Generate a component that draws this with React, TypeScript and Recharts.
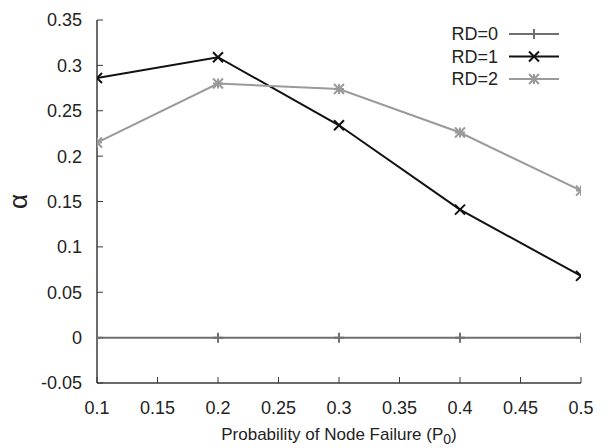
import React from "react"
import { LineChart, Line, XAxis, YAxis, Legend, Label } from "recharts"

const pFail = [0.1, 0.2, 0.3, 0.4, 0.5]
const rd0 = [0, 0, 0, 0, 0]
const rd1 = [0.286, 0.309, 0.234, 0.141, 0.068]
const rd2 = [0.215, 0.28, 0.274, 0.226, 0.162]
const seriesNames = ["RD=0", "RD=1", "RD=2"]

const xTicks = [0.1, 0.15, 0.2, 0.25, 0.3, 0.35, 0.4, 0.45, 0.5]
const yTicks = [-0.05, 0, 0.05, 0.1, 0.15, 0.2, 0.25, 0.3, 0.35]

const FONT = "'Liberation Sans', Arial, sans-serif"
const AXIS = "#3a3a3a"
const colors = ["#707070", "#111111", "#9a9a9a"]

const data = pFail.map((p, i) => ({ p, rd0: rd0[i], rd1: rd1[i], rd2: rd2[i] }))

const fmt = (v: number) => String(+v.toFixed(2))

type Mark = "plus" | "cross" | "star"
const marks: Mark[] = ["plus", "cross", "star"]

function markPath(kind: Mark, cx: number, cy: number, s = 5) {
  const plus = `M${cx - s},${cy}H${cx + s}M${cx},${cy - s}V${cy + s}`
  const cross = `M${cx - s},${cy - s}L${cx + s},${cy + s}M${cx - s},${cy + s}L${cx + s},${cy - s}`
  if (kind === "plus") return plus
  if (kind === "cross") return cross
  return plus + cross
}

function makeDot(kind: Mark, color: string) {
  return (props: any) => {
    const { cx, cy, index } = props
    if (cx == null || cy == null) return <g key={index} />
    return (
      <path
        key={index}
        d={markPath(kind, cx, cy)}
        stroke={color}
        strokeWidth={2}
        fill="none"
      />
    )
  }
}

function renderLegend() {
  return (
    <svg width={130} height={70} style={{ display: "block" }}>
      {seriesNames.map((name, i) => {
        const y = 12 + i * 22.5
        return (
          <g key={name}>
            <text
              x={58}
              y={y}
              dy="0.35em"
              textAnchor="end"
              fontFamily={FONT}
              fontSize={18}
              fill="#222"
            >
              {name}
            </text>
            <line x1={69} x2={119} y1={y} y2={y} stroke={colors[i]} strokeWidth={2} />
            <path d={markPath(marks[i], 94, y)} stroke={colors[i]} strokeWidth={2} fill="none" />
          </g>
        )
      })}
    </svg>
  )
}

function XTitle(props: any) {
  const { viewBox } = props
  const cx = viewBox.x + viewBox.width / 2
  return (
    <text x={cx} y={440} textAnchor="middle" fontFamily={FONT} fontSize={17} fill="#222">
      Probability of Node Failure (P
      <tspan dy={4} fontSize={14}>0</tspan>
      <tspan dy={-4}>)</tspan>
    </text>
  )
}

function YTitle(props: any) {
  const { viewBox } = props
  const cy = viewBox.y + viewBox.height / 2
  return (
    <text
      x={18}
      y={cy}
      textAnchor="middle"
      dominantBaseline="central"
      transform={`rotate(-90, 18, ${cy})`}
      fontFamily={FONT}
      fontSize={26}
      fill="#222"
    >
      α
    </text>
  )
}

const tickStyle = { fontSize: 18, fill: "#222", fontFamily: FONT }

export default function App() {
  return (
    <div style={{ position: "absolute", left: 0, top: 0, width: 607, height: 448, background: "#fff" }}>
      <LineChart
        width={607}
        height={448}
        data={data}
        margin={{ top: 20, right: 26, left: 0, bottom: 0 }}
      >
        <XAxis
          dataKey="p"
          type="number"
          domain={[0.1, 0.5]}
          ticks={xTicks}
          tickFormatter={fmt}
          height={65}
          axisLine={{ stroke: AXIS, strokeWidth: 1.5 }}
          tickLine={{ stroke: AXIS }}
          tickSize={-6}
          tickMargin={24}
          tick={tickStyle}
          allowDataOverflow
        >
          <Label content={<XTitle />} />
        </XAxis>
        <XAxis
          xAxisId="top"
          orientation="top"
          dataKey="p"
          type="number"
          domain={[0.1, 0.5]}
          ticks={xTicks}
          tickFormatter={() => ""}
          height={0}
          axisLine={{ stroke: AXIS, strokeWidth: 1.5 }}
          tickLine={{ stroke: AXIS }}
          tickSize={-6}
          allowDataOverflow
        />
        <YAxis
          type="number"
          domain={[-0.05, 0.35]}
          ticks={yTicks}
          tickFormatter={fmt}
          width={97}
          axisLine={{ stroke: AXIS, strokeWidth: 1.5 }}
          tickLine={{ stroke: AXIS }}
          tickSize={-6}
          tickMargin={21}
          tick={tickStyle}
          allowDataOverflow
        >
          <Label content={<YTitle />} />
        </YAxis>
        <YAxis
          yAxisId="right"
          orientation="right"
          type="number"
          domain={[-0.05, 0.35]}
          ticks={yTicks}
          tickFormatter={() => ""}
          width={0}
          axisLine={{ stroke: AXIS, strokeWidth: 1.5 }}
          tickLine={{ stroke: AXIS }}
          tickSize={-6}
          allowDataOverflow
        />
        <Legend
          layout="vertical"
          align="center"
          verticalAlign="middle"
          content={renderLegend}
          wrapperStyle={{ left: 440, top: 22, width: 130, height: 70 }}
        />
        <Line
          dataKey="rd0"
          name={seriesNames[0]}
          stroke={colors[0]}
          strokeWidth={2}
          dot={makeDot("plus", colors[0])}
          isAnimationActive={false}
        />
        <Line
          dataKey="rd1"
          name={seriesNames[1]}
          stroke={colors[1]}
          strokeWidth={2}
          dot={makeDot("cross", colors[1])}
          isAnimationActive={false}
        />
        <Line
          dataKey="rd2"
          name={seriesNames[2]}
          stroke={colors[2]}
          strokeWidth={2}
          dot={makeDot("star", colors[2])}
          isAnimationActive={false}
        />
      </LineChart>
    </div>
  )
}
